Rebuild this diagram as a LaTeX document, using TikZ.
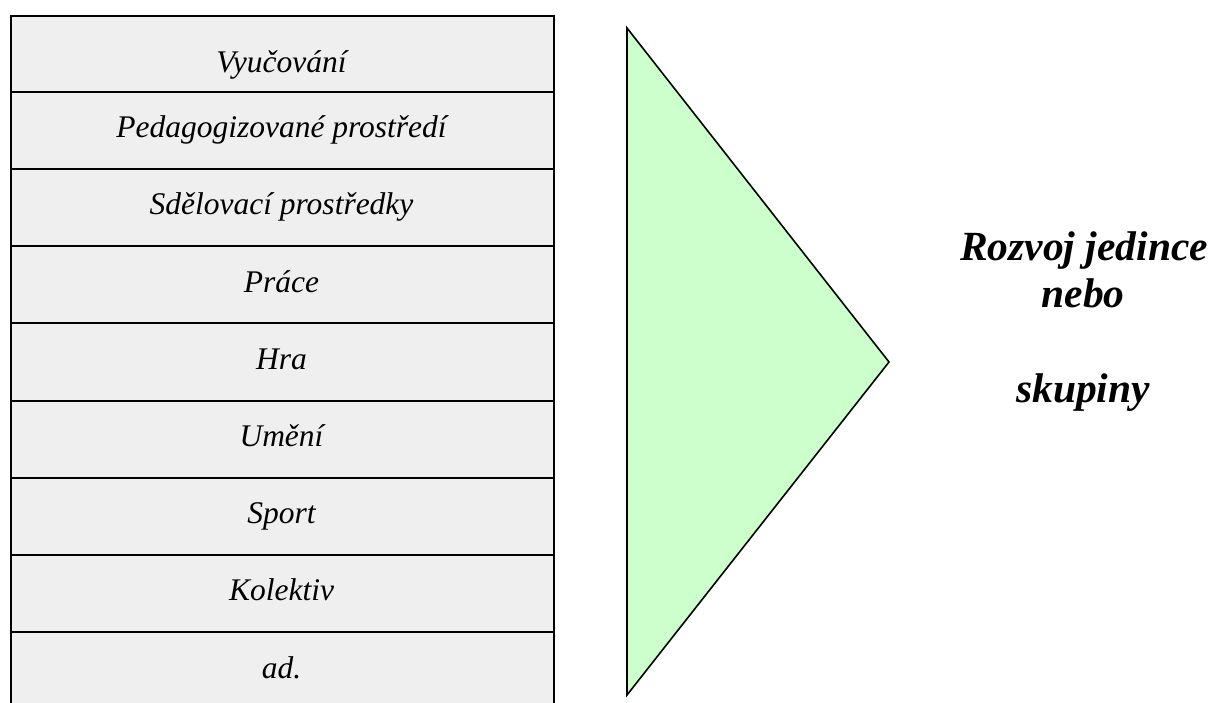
\documentclass[tikz,border=0pt]{standalone}
\usepackage{fontspec}
\setmainfont{Liberation Serif}
\definecolor{cellgray}{HTML}{EFEFEF}
\definecolor{trigreen}{HTML}{CCFFCC}
\begin{document}
\begin{tikzpicture}[x=1pt,y=-1pt,
  cell/.style={draw=black, line width=2pt, fill=cellgray, minimum width=543pt,
    inner sep=0pt, anchor=north west},
  label/.style={anchor=base, inner sep=0pt, font=\fontsize{31.5}{36}\selectfont\itshape},
  bigtext/.style={anchor=base, inner sep=0pt, font=\fontsize{41.5}{47}\selectfont\bfseries\itshape}]
\useasboundingbox (0,0) rectangle (1213,702);
% first (slightly shorter) row
\node[cell, minimum height=75.7pt] (c0) at (10,15) {};
\node[label] (l0) at (281.5,72) {Vyučování};
\foreach \t [count=\i from 1] in {Pedagogizované prostředí,Sdělovací prostředky,Práce,Hra,Umění,Sport,Kolektiv,ad.}{
  \node[cell, minimum height=77.2pt] (c\i) at (10,{90.7+77.2*(\i-1)}) {};
  \node[label] (l\i) at (281.5,{90.7+77.2*(\i-1)+47}) {\t};
}
\coordinate (t1) at (627,28);
\coordinate (t2) at (889,362);
\coordinate (t3) at (627,695);
\draw[fill=trigreen, line width=1.6pt, line join=miter] (t1) -- (t2) -- (t3) -- cycle;
\node[bigtext] (r1) at (1084,260) {Rozvoj jedince};
\node[bigtext] (r2) at (1083,307.5) {nebo};
\node[bigtext] (r3) at (1083,402.5) {skupiny};
\end{tikzpicture}
\end{document}
